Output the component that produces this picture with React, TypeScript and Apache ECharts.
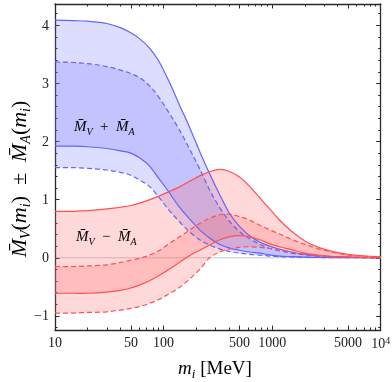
import React, { useEffect, useRef } from "react";
import * as echarts from "echarts";

// masses m_i [MeV]
const massGrid = [10, 15, 20, 30, 40, 50, 60, 75, 90, 110, 140, 175, 215, 265, 330, 400, 500, 620, 770, 950, 1170, 1500, 2000, 3000, 5000, 10000];

// M_V + M_A band (blue)
const sumUpperSolid = [4.09, 4.08, 4.07, 4.03, 3.96, 3.87, 3.77, 3.6, 3.39, 3.07, 2.63, 2.23, 1.83, 1.45, 1.08, 0.78, 0.54, 0.38, 0.27, 0.2, 0.15, 0.1, 0.06, 0.03, 0.012, 0.003];
const sumLowerSolid = [1.92, 1.92, 1.91, 1.88, 1.84, 1.8, 1.72, 1.57, 1.37, 1.15, 0.87, 0.66, 0.48, 0.34, 0.23, 0.17, 0.13, 0.1, 0.08, 0.05, 0.03, 0.02, 0.012, 0.006, 0.002, 0.0005];
const sumUpperDashed = [3.37, 3.36, 3.34, 3.29, 3.23, 3.17, 3.1, 2.95, 2.77, 2.52, 2.2, 1.86, 1.53, 1.17, 0.86, 0.64, 0.45, 0.33, 0.23, 0.16, 0.12, 0.08, 0.05, 0.02, 0.008, 0.002];
const sumLowerDashed = [1.55, 1.55, 1.54, 1.51, 1.47, 1.42, 1.34, 1.22, 1.05, 0.84, 0.62, 0.44, 0.31, 0.22, 0.15, 0.11, 0.08, 0.06, 0.045, 0.03, 0.02, 0.014, 0.008, 0.004, 0.001, 0.0003];

// M_V - M_A band (red)
const diffUpperSolid = [0.8, 0.8, 0.81, 0.84, 0.87, 0.9, 0.94, 1.0, 1.06, 1.13, 1.22, 1.32, 1.41, 1.48, 1.52, 1.49, 1.39, 1.23, 1.03, 0.84, 0.65, 0.46, 0.29, 0.15, 0.06, 0.015];
const diffLowerSolid = [-0.61, -0.61, -0.61, -0.59, -0.56, -0.52, -0.47, -0.39, -0.31, -0.21, -0.08, 0.04, 0.13, 0.22, 0.31, 0.36, 0.38, 0.36, 0.31, 0.24, 0.19, 0.14, 0.08, 0.035, 0.012, 0.003];
const diffUpperDashed = [-0.15, -0.15, -0.14, -0.12, -0.08, -0.04, -0.01, 0.05, 0.12, 0.23, 0.36, 0.48, 0.59, 0.68, 0.74, 0.75, 0.71, 0.65, 0.56, 0.48, 0.41, 0.32, 0.23, 0.13, 0.05, 0.012];
const diffLowerDashed = [-0.95, -0.95, -0.94, -0.93, -0.9, -0.87, -0.84, -0.78, -0.72, -0.63, -0.51, -0.36, -0.2, 0.0, 0.1, 0.15, 0.18, 0.19, 0.18, 0.16, 0.13, 0.1, 0.06, 0.025, 0.008, 0.002];

// ticks
const xMajorTicks = [10, 50, 100, 500, 1000, 5000, 10000];
const xMinorTicks = [20, 30, 40, 60, 70, 80, 90, 200, 300, 400, 600, 700, 800, 900, 2000, 3000, 4000, 6000, 7000, 8000, 9000];
const yMajorTicks = [-1, 0, 1, 2, 3, 4];
const yMinorTicks = [-1.2, -0.8, -0.6, -0.4, -0.2, 0.2, 0.4, 0.6, 0.8, 1.2, 1.4, 1.6, 1.8, 2.2, 2.4, 2.6, 2.8, 3.2, 3.4, 3.6, 3.8, 4.2];

const X_MIN = 10;
const X_MAX = 10000;
const Y_MIN = -1.242;
const Y_MAX = 4.366;

const SERIF = "'Liberation Serif', 'Times New Roman', serif";
const BLUE_LINE = "#6464f5";
const RED_LINE = "#ff5050";
const BLUE_FILL = "rgba(110,110,255,0.23)";
const RED_FILL = "rgba(255,110,110,0.26)";
const FRAME = "#2a2a2a";

// cubic Hermite path through pixel points (three-point slopes)
function pathThrough(pts: number[][], start: "M" | "L"): string {
  const n = pts.length;
  const h = (i: number) => pts[i + 1][0] - pts[i][0];
  const sec = (i: number) => (pts[i + 1][1] - pts[i][1]) / h(i);
  const slope = (i: number) => {
    if (i === 0) return sec(0);
    if (i === n - 1) return sec(n - 2);
    const h0 = Math.abs(h(i - 1));
    const h1 = Math.abs(h(i));
    return (h0 * sec(i) + h1 * sec(i - 1)) / (h0 + h1);
  };
  let d = `${start}${pts[0][0].toFixed(2)},${pts[0][1].toFixed(2)}`;
  for (let i = 0; i < n - 1; i++) {
    const p = pts[i];
    const q = pts[i + 1];
    const dx = q[0] - p[0];
    const m0 = slope(i);
    const m1 = slope(i + 1);
    const c1 = [p[0] + dx / 3, p[1] + (m0 * dx) / 3];
    const c2 = [q[0] - dx / 3, q[1] - (m1 * dx) / 3];
    d += ` C${c1[0].toFixed(2)},${c1[1].toFixed(2)} ${c2[0].toFixed(2)},${c2[1].toFixed(2)} ${q[0].toFixed(2)},${q[1].toFixed(2)}`;
  }
  return d;
}

function bandSeries(lower: number[], upper: number[], fill: string) {
  return {
    type: "custom",
    coordinateSystem: "cartesian2d",
    silent: true,
    clip: true,
    z: 1,
    data: massGrid.map((x, i) => [x, lower[i], upper[i]]),
    encode: { x: 0, y: [1, 2] },
    renderItem: (params: any, api: any) => {
      if (params.dataIndex !== 0) return null;
      const up = massGrid.map((x, i) => api.coord([x, upper[i]]));
      const lo = massGrid.map((x, i) => api.coord([x, lower[i]])).reverse();
      const d = pathThrough(up, "M") + " " + pathThrough(lo, "L") + " Z";
      return { type: "path", shape: { pathData: d }, style: { fill, stroke: null } };
    },
  };
}

function edgeSeries(ys: number[], color: string, dashed: boolean) {
  return {
    type: "custom",
    coordinateSystem: "cartesian2d",
    silent: true,
    clip: true,
    z: 3,
    data: massGrid.map((x, i) => [x, ys[i]]),
    encode: { x: 0, y: 1 },
    renderItem: (params: any, api: any) => {
      if (params.dataIndex !== 0) return null;
      const pts = massGrid.map((x, i) => api.coord([x, ys[i]]));
      return {
        type: "path",
        shape: { pathData: pathThrough(pts, "M") },
        style: { fill: "none", stroke: color, lineWidth: 1.2, lineDash: dashed ? [5, 3] : null },
      };
    },
  };
}

const zeroSeries = {
  type: "custom",
  coordinateSystem: "cartesian2d",
  silent: true,
  z: 0,
  data: [[X_MIN, 0]],
  encode: { x: 0, y: 1 },
  renderItem: (params: any, api: any) => {
    const a = api.coord([X_MIN, 0]);
    const b = api.coord([X_MAX, 0]);
    return { type: "line", shape: { x1: a[0], y1: a[1], x2: b[0], y2: b[1] }, style: { stroke: "#c8c8c8", lineWidth: 1 } };
  },
};

const lg = (v: number) => Math.log10(v);

function xDecor(position: "top" | "bottom", values: number[], len: number, labels: boolean, line: boolean) {
  return {
    type: "value",
    position,
    min: lg(X_MIN),
    max: lg(X_MAX),
    axisLine: { show: line, onZero: false, lineStyle: { color: FRAME, width: 1.3 } },
    axisTick: { show: true, inside: true, length: len, customValues: values.map(lg), lineStyle: { color: FRAME, width: 1 } },
    axisLabel: labels
      ? {
          show: true,
          customValues: values.map(lg),
          margin: 5,
          fontFamily: SERIF,
          fontSize: 14,
          color: "#222",
          formatter: (v: number) => {
            const n = Math.round(Math.pow(10, v));
            if (n === 10000) return "{b|10}{s|4}";
            return String(n);
          },
          rich: {
            b: { fontFamily: SERIF, fontSize: 14, color: "#222", lineHeight: 16, verticalAlign: "middle" },
            s: { fontFamily: SERIF, fontSize: 10, color: "#222", lineHeight: 10, verticalAlign: "top" },
          },
        }
      : { show: false },
    splitLine: { show: false },
  };
}

function yDecor(position: "left" | "right", values: number[], len: number, labels: boolean, line: boolean) {
  return {
    type: "value",
    position,
    min: Y_MIN,
    max: Y_MAX,
    axisLine: { show: line, onZero: false, lineStyle: { color: FRAME, width: 1.3 } },
    axisTick: { show: true, inside: true, length: len, customValues: values, lineStyle: { color: FRAME, width: 1 } },
    axisLabel: labels
      ? {
          show: true,
          customValues: values,
          margin: 6,
          fontFamily: SERIF,
          fontSize: 14,
          color: "#222",
          formatter: (v: number) => (v < 0 ? "\u2212" + Math.abs(v) : String(v)),
        }
      : { show: false },
    splitLine: { show: false },
  };
}

const mathRich = (size: number, sub: number, color: string) => ({
  m: { fontFamily: SERIF, fontStyle: "italic", fontSize: size, color, lineHeight: size + 6, verticalAlign: "middle" },
  s: { fontFamily: SERIF, fontStyle: "italic", fontSize: sub, color, lineHeight: sub, verticalAlign: "bottom" },
  p: { fontFamily: SERIF, fontSize: size, color, lineHeight: size + 6, verticalAlign: "middle" },
});

const BAR_M = "M\u0304";

export default function App() {
  const ref = useRef<HTMLDivElement>(null);
  useEffect(() => {
    if (!ref.current) return;
    const chart = echarts.init(ref.current, null, { renderer: "svg" });
    const option: any = {
      animation: false,
      grid: { left: 55, right: 11.3, top: 4, bottom: 52, containLabel: false, outerBoundsMode: "none" },
      xAxis: [
        { type: "log", logBase: 10, min: X_MIN, max: X_MAX, show: false, axisLine: { onZero: false }, splitLine: { show: false } },
        xDecor("bottom", xMajorTicks, 4.5, true, true),
        xDecor("bottom", xMinorTicks, 2.5, false, false),
        xDecor("top", xMajorTicks, 4.5, false, true),
        xDecor("top", xMinorTicks, 2.5, false, false),
      ],
      yAxis: [
        yDecor("left", yMajorTicks, 4.5, true, true),
        yDecor("left", yMinorTicks, 2.5, false, false),
        yDecor("right", yMajorTicks, 4.5, false, true),
        yDecor("right", yMinorTicks, 2.5, false, false),
      ],
      series: [
        zeroSeries,
        bandSeries(sumLowerSolid, sumUpperSolid, BLUE_FILL),
        bandSeries(sumLowerDashed, sumUpperDashed, BLUE_FILL),
        bandSeries(diffLowerSolid, diffUpperSolid, RED_FILL),
        bandSeries(diffLowerDashed, diffUpperDashed, RED_FILL),
        edgeSeries(sumUpperSolid, BLUE_LINE, false),
        edgeSeries(sumLowerSolid, BLUE_LINE, false),
        edgeSeries(sumUpperDashed, BLUE_LINE, true),
        edgeSeries(sumLowerDashed, BLUE_LINE, true),
        edgeSeries(diffUpperSolid, RED_LINE, false),
        edgeSeries(diffLowerSolid, RED_LINE, false),
        edgeSeries(diffUpperDashed, RED_LINE, true),
        edgeSeries(diffLowerDashed, RED_LINE, true),
      ],
      graphic: [
        {
          type: "text",
          left: 74,
          top: 118,
          z: 10,
          style: {
            text: `{m|${BAR_M}}{s|V}{p|  +  }{m|${BAR_M}}{s|A}`,
            rich: mathRich(15, 10, "#3c3cc0"),
          },
        },
        {
          type: "text",
          left: 76,
          top: 228,
          z: 10,
          style: {
            text: `{m|${BAR_M}}{s|V}{p|  \u2212  }{m|${BAR_M}}{s|A}`,
            rich: mathRich(15, 10, "#c02828"),
          },
        },
        {
          type: "text",
          x: 18,
          y: 179,
          rotation: Math.PI / 2,
          z: 10,
          style: {
            text: `{m|${BAR_M}}{s|V}{p|(}{m|m}{s|i}{p|)  ±  }{m|${BAR_M}}{s|A}{p|(}{m|m}{s|i}{p|)}`,
            rich: mathRich(22, 14, "#222"),
            align: "center",
            verticalAlign: "middle",
          },
        },
        {
          type: "text",
          x: 215,
          y: 367,
          z: 10,
          style: {
            text: `{m|m}{s|i}{p| [MeV]}`,
            rich: mathRich(19, 13, "#222"),
            align: "center",
            verticalAlign: "middle",
          },
        },
      ],
    };
    chart.setOption(option);
    return () => chart.dispose();
  }, []);
  return <div ref={ref} style={{ position: "fixed", left: 0, top: 0, width: 392, height: 382 }} />;
}
